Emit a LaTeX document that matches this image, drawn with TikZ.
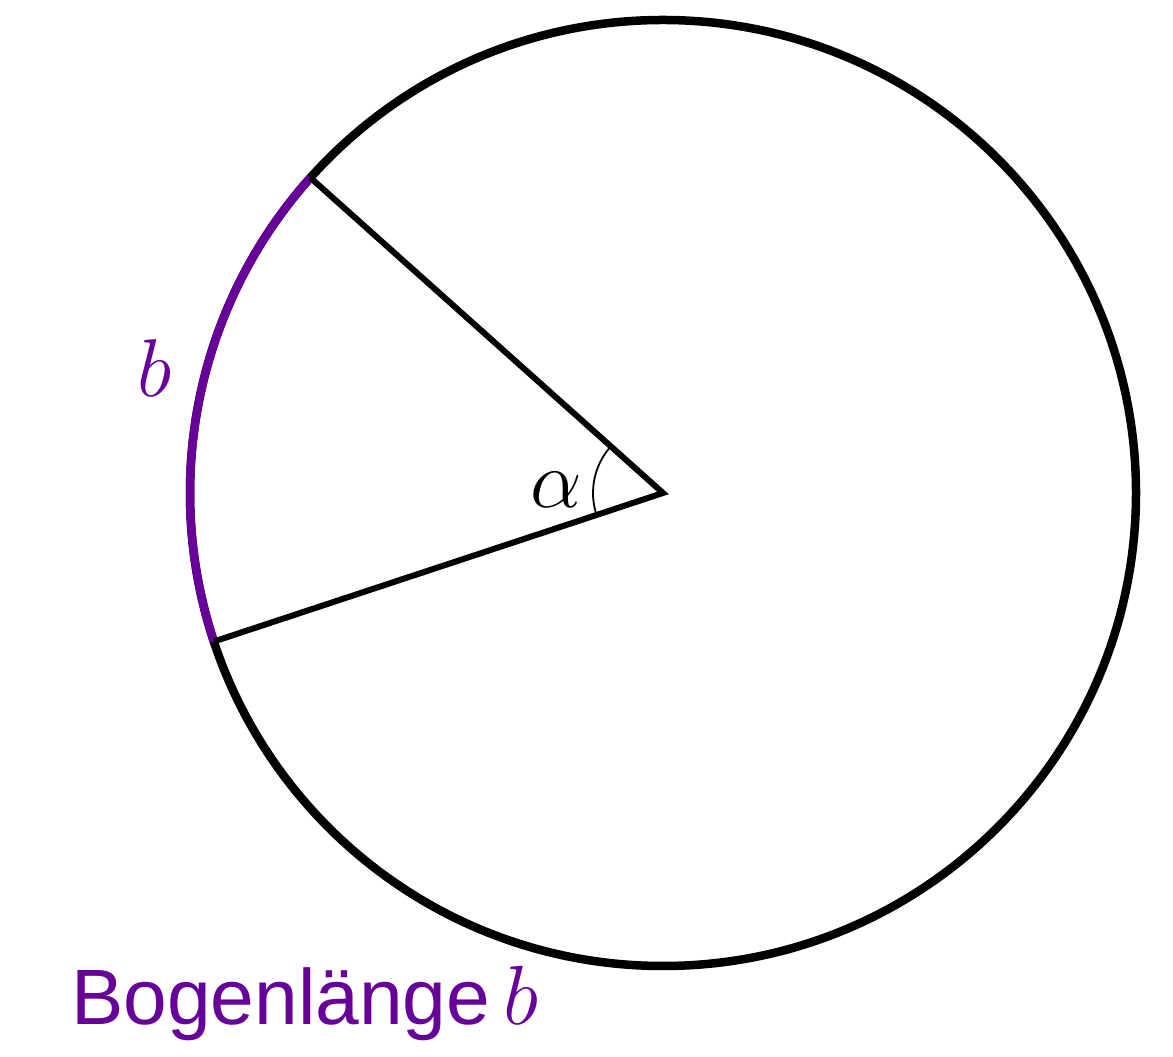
\RequirePackage{fix-cm}
\documentclass[tikz,border=0pt]{standalone}
\usepackage{fontspec}
\usetikzlibrary{calc}
\newfontfamily\labelsans{Liberation Sans}
\definecolor{arcpurple}{HTML}{660099}
\begin{document}
\begin{tikzpicture}[x=1pt,y=1pt,
  circ/.style={draw=black,line width=8.5pt},
  radius line/.style={draw=black,line width=6pt,line join=miter},
  arclen/.style={draw=arcpurple,line width=8.5pt},
  anglemark/.style={draw=black,line width=1.8pt},
  mathlbl/.style={inner sep=0pt}]
\useasboundingbox (0,0) rectangle (1173,1057);
\coordinate (O) at (663,564);
\coordinate (A) at ($(O)+(138.2:473)$);
\coordinate (B) at ($(O)+(198.3:473)$);
\draw[circ] (O) circle[radius=473];
\draw[arclen] (A) arc[start angle=138.2,end angle=198.3,radius=473];
\draw[radius line] (A) -- (O) -- (B);
\draw[anglemark] ($(O)+(138.2:70)$) arc[start angle=138.2,end angle=198.3,radius=70];
\node[mathlbl] (alpha) at (556,567) {\fontsize{82}{90}\selectfont$\alpha$};
\node[mathlbl,text=arcpurple] (blabel) at (155,689) {\fontsize{82}{90}\selectfont$b$};
\node[mathlbl,anchor=base west,text=arcpurple] (title) at (71,32)
  {\fontsize{78.5}{85}\selectfont\labelsans Bogenlänge\,\fontsize{84}{90}\selectfont$b$};
\end{tikzpicture}
\end{document}
